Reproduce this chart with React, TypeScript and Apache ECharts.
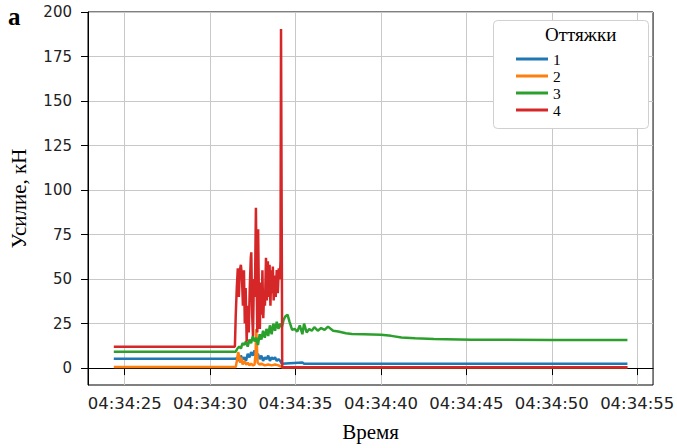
import React, { useEffect, useRef } from "react";
import * as echarts from "echarts";

const xTicks = [25, 30, 35, 40, 45, 50, 55];
const yTicks = [0, 25, 50, 75, 100, 125, 150, 175, 200];
const seriesNames = ["1", "2", "3", "4"];
const colors = ["#1f77b4", "#ff7f0e", "#2ca02c", "#d62728"];

// seconds after 04:34:00
const t1 = [24.36, 31.5, 31.6, 31.7, 31.8, 31.9, 32.0, 32.1, 32.2, 32.3, 32.4, 32.5, 32.6, 32.7, 32.8, 32.9, 33.0, 33.1, 33.2, 33.3, 33.4, 33.5, 33.6, 33.7, 33.8, 33.9, 34.0, 34.1, 34.2, 35.4, 35.5, 54.43];
const v1 = [5.2, 5.2, 6, 4, 7, 5, 6, 4, 8, 6, 9, 7, 10, 6, 8, 5, 7, 4, 6, 5, 7, 4, 6, 5, 6, 4, 5, 4, 2.4, 3.2, 2.4, 2.4];

const t2 = [24.36, 31.5, 31.58, 31.64, 31.7, 31.76, 31.82, 31.9, 32.0, 32.1, 32.2, 32.3, 32.4, 32.5, 32.6, 32.66, 32.7, 32.74, 32.78, 32.9, 33.0, 33.2, 33.4, 33.6, 33.8, 34.0, 34.2, 54.43];
const v2 = [0.6, 0.6, 5, 9, 7, 3, 6, 2, 4, 2, 3, 1.5, 2.5, 1.5, 2, 8, 22, 12, 3, 2, 2.5, 1.5, 2, 1.5, 2, 1.5, 0.5, 0.5];

const t3 = [24.36, 31.5, 31.6, 31.7, 31.8, 31.9, 32.0, 32.1, 32.2, 32.3, 32.4, 32.5, 32.6, 32.7, 32.8, 32.9, 33.0, 33.1, 33.2, 33.3, 33.4, 33.5, 33.6, 33.7, 33.8, 33.9, 34.0, 34.1, 34.2, 34.3, 34.4, 34.53, 34.65, 34.8, 34.95, 35.1, 35.25, 35.4, 35.5, 35.65, 35.8, 35.95, 36.1, 36.3, 36.5, 36.7, 36.9, 37.2, 37.5, 37.95, 38.3, 39.0, 40.0, 40.6, 41.2, 42.0, 43.1, 45.3, 47.2, 50.0, 54.43];
const v3 = [9.2, 9.2, 11, 12, 11, 14, 13, 15, 12, 16, 14, 18, 15, 17, 13, 19, 16, 21, 17, 22, 18, 24, 19, 25, 21, 26, 22, 25, 23, 27, 29, 30, 26, 21.5, 22, 20.5, 24, 19, 25, 20, 22, 21, 23, 21, 22.5, 21.5, 23.3, 21, 20.5, 19.6, 19.2, 19, 18.7, 18.1, 17.2, 16.7, 16.3, 15.9, 15.9, 15.8, 15.8];

const t4 = [24.36, 31.45, 31.5, 31.56, 31.62, 31.68, 31.74, 31.8, 31.86, 31.92, 31.98, 32.03, 32.08, 32.14, 32.2, 32.26, 32.32, 32.38, 32.41, 32.46, 32.51, 32.56, 32.62, 32.68, 32.72, 32.76, 32.81, 32.86, 32.91, 32.96, 33.02, 33.06, 33.11, 33.16, 33.21, 33.27, 33.32, 33.38, 33.43, 33.48, 33.53, 33.58, 33.63, 33.67, 33.72, 33.78, 33.84, 33.9, 33.96, 34.02, 34.08, 34.12, 34.15, 34.22, 54.43];
const v4 = [12.0, 12.0, 30, 45, 56, 40, 55, 58, 52, 35, 55, 25, 45, 15, 35, 20, 45, 62, 65, 30, 18, 50, 40, 90, 55, 20, 78, 35, 22, 48, 30, 55, 28, 42, 35, 62, 38, 60, 40, 58, 35, 55, 42, 57, 38, 52, 40, 55, 42, 56, 50, 60, 190.5, 0.5, 0.4];

const times = [t1, t2, t3, t4];
const values = [v1, v2, v3, v4];

const pad2 = (n: number) => (n < 10 ? "0" + n : "" + n);

export default function App() {
  const ref = useRef<HTMLDivElement>(null);
  useEffect(() => {
    if (!ref.current) return;
    const chart = echarts.init(ref.current, undefined, { renderer: "svg" });
    const serif = "Liberation Serif";
    const sans = "DejaVu Sans";
    chart.setOption({
      animation: false,
      backgroundColor: "#fff",
      grid: {
        left: 80,
        top: 12,
        right: 21,
        bottom: 63,
        show: true,
        borderColor: "#000",
        borderWidth: 1,
      },
      legend: {
        orient: "vertical",
        left: 511,
        top: 46,
        itemWidth: 32,
        itemHeight: 3,
        icon: "rect",
        itemGap: 1,
        z: 20,
        data: seriesNames,
        textStyle: { fontFamily: serif, fontSize: 15.5, lineHeight: 15, color: "#000" },
      },
      xAxis: {
        type: "value",
        min: 22.85,
        max: 55.93,
        name: "Время",
        nameLocation: "middle",
        nameGap: 36,
        nameTextStyle: { fontFamily: serif, fontSize: 21, color: "#000" },
        axisLine: { show: true, lineStyle: { color: "#000", width: 1 } },
        axisTick: { show: true, customValues: xTicks, length: 7, lineStyle: { color: "#000" } },
        axisLabel: {
          customValues: xTicks,
          formatter: (v: number) => "04:34:" + pad2(Math.round(v)),
          fontFamily: sans,
          fontSize: 16.5,
          color: "#222",
          margin: 10,
        },
        splitLine: { show: true, lineStyle: { color: "#c8c8c8", width: 1 } },
      },
      yAxis: {
        type: "value",
        min: -9.5,
        max: 200,
        name: "Усилие, кН",
        nameLocation: "middle",
        nameGap: 59,
        nameRotate: 90,
        nameTextStyle: { fontFamily: serif, fontSize: 21, color: "#000" },
        axisLine: { show: true, lineStyle: { color: "#000", width: 1 } },
        axisTick: { show: true, customValues: yTicks, length: 7, lineStyle: { color: "#000" } },
        axisLabel: {
          customValues: yTicks,
          fontFamily: sans,
          fontSize: 15,
          color: "#222",
          margin: 16,
        },
        splitLine: { show: true, lineStyle: { color: "#c8c8c8", width: 1 } },
      },
      graphic: [
        {
          type: "rect",
          left: 493,
          top: 20,
          z: 10,
          shape: { width: 155, height: 108, r: 4 },
          style: { fill: "#fff", stroke: "#d0d0d0", lineWidth: 1 },
        },
        {
          type: "text",
          left: 545,
          top: 25,
          z: 21,
          style: { text: "Оттяжки", font: '19px "Liberation Serif"', fill: "#000" },
        },
        {
          type: "text",
          left: 8,
          top: 4,
          z: 21,
          style: { text: "а", font: 'bold 25px "Liberation Serif"', fill: "#000" },
        },
      ],
      series: seriesNames.map((name, i) => ({
        name,
        type: "line",
        symbol: "none",
        showSymbol: false,
        color: colors[i],
        lineStyle: { width: 2.5, color: colors[i] },
        z: 2 + i,
        data: times[i].map((t, j) => [t, values[i][j]]),
      })),
    });
    return () => chart.dispose();
  }, []);
  return (
    <div
      ref={ref}
      style={{ position: "fixed", left: 0, top: 0, width: 677, height: 448, background: "#fff" }}
    />
  );
}
